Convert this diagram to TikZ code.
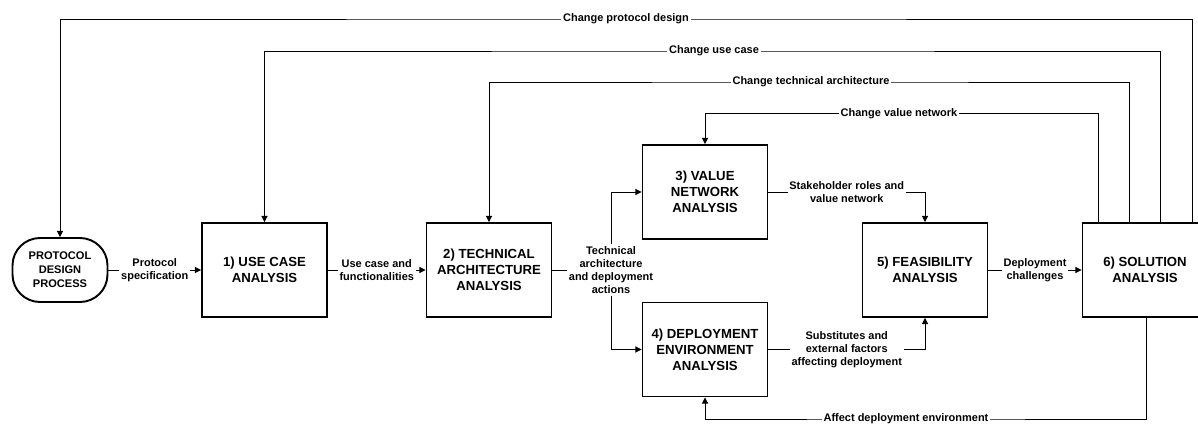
\documentclass[tikz,border=0pt]{standalone}
\usepackage{fontspec}
\setmainfont{Liberation Sans}
\usepackage{tikz}
\usetikzlibrary{arrows.meta}

\begin{document}
\begin{tikzpicture}[>={Triangle[length=3.5pt,width=3.5pt]}]
\tikzstyle{box}=[draw,line width=1.1pt,minimum width=2.5cm,minimum height=1.88cm,align=center,font=\fontsize{7.5}{9}\selectfont\bfseries];
\tikzstyle{lab}=[fill=white,inner sep=1pt,align=center,font=\fontsize{6.25}{7.5}\selectfont\bfseries];
\tikzstyle{link}=[line width=0.55pt];
\useasboundingbox (0,0) rectangle (23.96,-8.52);
\node[box,rounded corners=0.55cm,minimum width=1.9cm,minimum height=1.28cm,font=\fontsize{6.3}{8}\selectfont\bfseries](pdp) at (1.2,-5.4) {PROTOCOL\\DESIGN\\PROCESS};
\node[box](uc) at (5.29,-5.4) {1) USE CASE\\ANALYSIS};
\node[box](ta) at (9.78,-5.4) {2) TECHNICAL\\ARCHITECTURE\\ANALYSIS};
\node[box](vn) at (14.1,-3.84) {3) VALUE\\NETWORK\\ANALYSIS};
\node[box](de) at (14.1,-6.99) {4) DEPLOYMENT\\ENVIRONMENT\\ANALYSIS};
\node[box](fe) at (18.5,-5.4) {5) FEASIBILITY\\ANALYSIS};
\node[box](so) at (22.9,-5.4) {6) SOLUTION\\ANALYSIS};
\coordinate(jn) at (12.22,-5.4);
\draw[link,->](pdp)--node[lab]{Protocol\\specification}(uc);
\draw[link,->](uc)--node[lab]{Use case and\\functionalities}(ta);
\draw[link](ta)--(jn);
\draw[link,->](jn)|-(vn);
\draw[link,->](jn)|-(de);
\node[lab] at (jn) {Technical\\architecture\\and deployment\\actions};
\draw[link,->](vn)-|node[lab,pos=0.25]{Stakeholder roles and\\value network}(fe);
\draw[link,->](de)-|node[lab,pos=0.25]{Substitutes and\\external factors\\affecting deployment}(fe);
\draw[link,->](fe)--node[lab]{Deployment\\challenges}(so);
\draw[link,->]([xshift=2.22cm]so.north west)|-(12.52,-0.38)node[lab]{Change protocol design}-|(pdp.north);
\draw[link,->]([xshift=1.58cm]so.north west)|-(14.28,-1.02)node[lab]{Change use case}-|(uc.north);
\draw[link,->]([xshift=0.96cm]so.north west)|-(16.22,-1.64)node[lab]{Change technical architecture}-|(ta.north);
\draw[link,->]([xshift=0.34cm]so.north west)|-(17.98,-2.27)node[lab]{Change value network}-|(vn.north);
\draw[link,->]([xshift=0.02cm]so.south)|-(18.12,-8.38)node[lab]{Affect deployment environment}-|(de.south);
\end{tikzpicture}
\end{document}
